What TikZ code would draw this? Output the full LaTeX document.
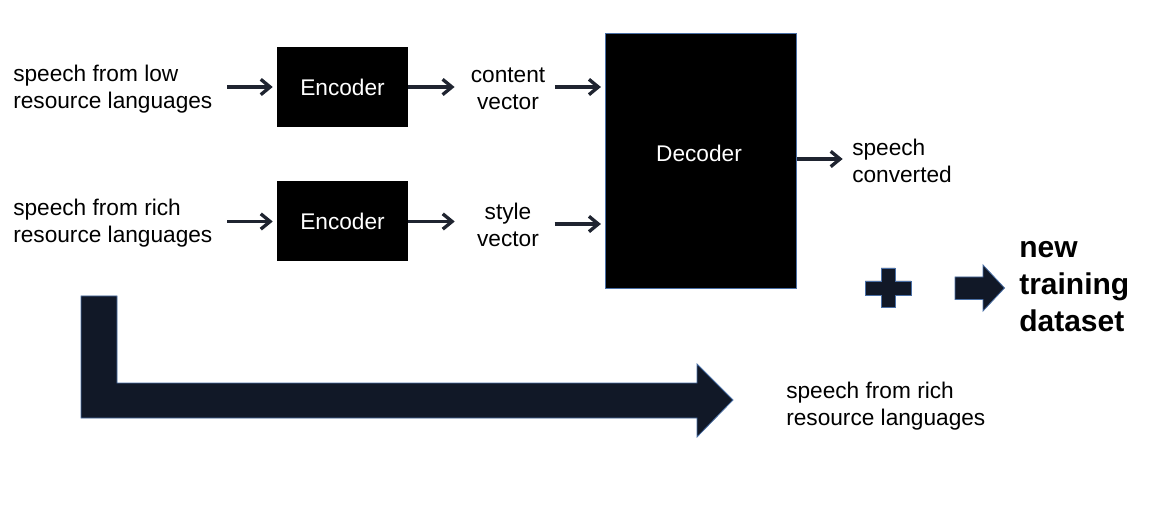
\documentclass[tikz,border=0pt]{standalone}
\usepackage{fontspec}
\setmainfont{Liberation Sans}
\usetikzlibrary{arrows.meta,calc}
\definecolor{navy}{HTML}{111827}
\definecolor{edge}{HTML}{4A6FA5}
\definecolor{ink}{HTML}{1F2430}
\begin{document}
\begin{tikzpicture}[x=0.75pt,y=-0.75pt,
  txt/.style={inner sep=0pt, font=\fontsize{17}{20.25}\selectfont},
  lbl/.style={txt, align=left, anchor=west},
  vec/.style={txt, align=center, minimum width=55.5pt},
  enc/.style={fill=black, text=white, inner sep=0pt, minimum width=98.25pt, minimum height=60pt, font=\fontsize{17}{20.25}\selectfont},
  arr/.style={draw=ink, line width=2.5pt, -{Straight Barb[length=7pt,width=11.5pt,line width=2.5pt]}},
  blockshape/.style={fill=navy, draw=edge, line width=0.6pt}
]
\useasboundingbox (0,0) rectangle (1158,506);

% left labels
\node[lbl] (l1) at (13,89) {speech from low\\resource languages};
\node[lbl] (l2) at (13,223) {speech from rich\\resource languages};

% encoders
\node[enc] (e1) at (342.5,87) {Encoder};
\node[enc] (e2) at (342.5,221.5) {Encoder};

% vectors
\node[vec] (cv) at (508,89) {content\\vector};
\node[vec] (sv) at (508,225) {style\\vector};

% decoder
\node[fill=black, draw=edge, line width=0.6pt, inner sep=0pt, minimum width=143.5pt, minimum height=191.25pt] (dec) at (701,160.5) {};
\node[txt, text=white] (dectxt) at ($(dec.center)+(-2,-7)$) {Decoder};

% output
\node[lbl] (sc) at (852,161) {speech\\converted};

% arrows
\draw[arr, shorten <=11pt, shorten >=3pt] (l1.east |- e1.west) -- (e1.west);
\draw[arr, shorten <=11pt, shorten >=3pt] (l2.east |- e2.west) -- (e2.west);
\draw[arr, shorten >=12pt] (e1.east) -- (e1.east -| cv.west);
\draw[arr, shorten >=12pt] (e2.east) -- (e2.east -| sv.west);
\draw[arr, shorten <=7pt, shorten >=3pt] (cv.east |- e1.east) -- (e1.east -| dec.west);
\draw[arr, shorten <=7pt, shorten >=3pt] (sv.east |- 0,224) -- (dec.west |- 0,224);
\draw[arr, shorten >=7pt] (dec.east |- 0,159) -- (sc.west |- 0,159);

% plus sign
\draw[blockshape] (881,268) -- (895,268) -- (895,281) -- (911,281) -- (911,295) -- (895,295)
  -- (895,307) -- (881,307) -- (881,295) -- (865,295) -- (865,281) -- (881,281) -- cycle;

% block arrow
\draw[blockshape] (955,277) -- (983,277) -- (983,265) -- (1004.5,288) -- (983,311) -- (983,299.5) -- (955,299.5) -- cycle;

% new training dataset
\node[inner sep=0pt, align=left, anchor=west, font=\bfseries\fontsize{22.5}{27.75}\selectfont] (ntd) at (1019,287) {new\\training\\dataset};

% L-shaped arrow
\draw[blockshape] (81,296) -- (117,296) -- (117,383) -- (697,383) -- (697,364) -- (733,400)
  -- (697,437) -- (697,418) -- (81,418) -- cycle;

% bottom label
\node[lbl] (bl) at (786,406.5) {speech from rich\\resource languages};
\end{tikzpicture}
\end{document}
